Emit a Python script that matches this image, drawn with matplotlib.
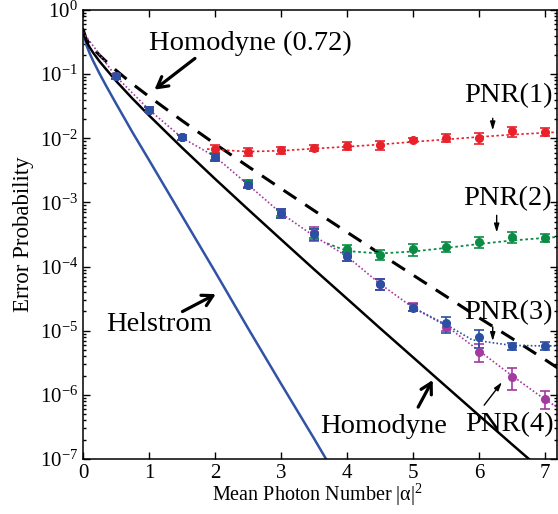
import matplotlib
matplotlib.use("Agg")
import matplotlib.pyplot as plt
import numpy as np

plt.rcParams['font.family'] = ['Liberation Serif', 'DejaVu Serif']
plt.rcParams['mathtext.fontset'] = 'custom'
plt.rcParams['mathtext.rm'] = 'Liberation Serif'
plt.rcParams['mathtext.it'] = 'Liberation Serif:italic'

# theory curves
n_th = [0, 0.05, 0.1, 0.15, 0.25, 0.35, 0.5, 0.75, 1, 1.5, 2, 2.5, 3, 3.5, 4, 4.5, 5, 5.5, 6, 6.5, 7, 7.2]
helstrom = [0.5, 0.287, 0.213, 0.164, 0.1025, 0.066, 0.035, 0.0124, 0.0046, 6.2e-4, 8.4e-5, 1.1e-5,
            1.5e-6, 2.1e-7, 2.8e-8, 3.8e-9, 5.2e-10, 7e-11, 9.4e-12, 1.3e-12, 1.7e-13, 7.6e-14]
homodyne = [0.5, 0.327, 0.264, 0.219, 0.1587, 0.1195, 0.0786, 0.0416, 0.0228, 0.00716, 0.00234, 7.83e-4,
            2.66e-4, 9.1e-5, 3.17e-5, 1.1e-5, 3.87e-6, 1.36e-6, 4.8e-7, 1.7e-7, 6.1e-8, 4.0e-8]
homodyne72 = [0.5, 0.352, 0.296, 0.256, 0.198, 0.158, 0.115, 0.0703, 0.0449, 0.0189, 0.0082, 0.00365,
              0.00165, 7.5e-4, 3.45e-4, 1.59e-4, 7.4e-5, 3.45e-5, 1.6e-5, 7.6e-6, 3.56e-6, 2.6e-6]

# measured points
n_data = [0.5, 1, 1.5, 2, 2.5, 3, 3.5, 4, 4.5, 5, 5.5, 6, 6.5, 7]
pnr1 = [0.092, 0.028, 0.0103, 6.8e-3, 6.2e-3, 6.5e-3, 7.1e-3, 7.6e-3, 7.8e-3, 9.3e-3, 1.02e-2, 1.02e-2, 1.28e-2, 1.27e-2]
pnr1_err = [0.08, 0.08, 0.1, 0.15, 0.15, 0.12, 0.12, 0.15, 0.15, 0.07, 0.15, 0.2, 0.17, 0.15]
pnr2 = [0.092, 0.028, 0.0103, 0.0052, 0.0020, 6.9e-4, 3.3e-4, 1.87e-4, 1.52e-4, 1.85e-4, 2.05e-4, 2.4e-4, 2.9e-4, 2.8e-4]
pnr2_err = [0.08, 0.08, 0.1, 0.12, 0.12, 0.12, 0.15, 0.15, 0.18, 0.2, 0.18, 0.2, 0.2, 0.15]
pnr3 = [0.092, 0.028, 0.0103, 0.0051, 0.0019, 6.8e-4, 3.2e-4, 1.45e-4, 5.4e-5, 2.3e-5, 1.3e-5, 7.9e-6, 5.7e-6, 5.8e-6]
pnr3_err = [0.08, 0.08, 0.1, 0.12, 0.12, 0.15, 0.2, 0.15, 0.2, 0.12, 0.28, 0.32, 0.12, 0.15]
pnr4 = [0.092, 0.028, 0.0103, 0.0051, 0.0019, 6.8e-4, 3.3e-4, 1.45e-4, 5.4e-5, 2.35e-5, 1.15e-5, 4.7e-6, 1.9e-6, 8.7e-7]
pnr4_err = [0.08, 0.08, 0.1, 0.12, 0.12, 0.15, 0.25, 0.15, 0.2, 0.15, 0.15, 0.3, 0.38, 0.3]

# dotted fit curves
fit1_n = [1.88, 2.5, 3, 3.5, 4, 4.5, 5, 5.5, 6, 6.5, 7, 7.2]
fit1 = [6.8e-3, 6.2e-3, 6.4e-3, 6.9e-3, 7.4e-3, 8.0e-3, 8.8e-3, 9.6e-3, 1.05e-2, 1.14e-2, 1.22e-2, 1.25e-2]
fit2_n = [3.7, 4, 4.5, 5, 5.5, 6, 6.5, 7, 7.2]
fit2 = [2.3e-4, 1.75e-4, 1.6e-4, 1.72e-4, 1.95e-4, 2.25e-4, 2.55e-4, 2.8e-4, 2.9e-4]
fit3_n = [5.0, 5.5, 5.9, 6.5, 7, 7.2]
fit3 = [2.3e-5, 1.25e-5, 7.2e-6, 5.9e-6, 5.8e-6, 5.8e-6]
fit4_n = [0, 0.5, 1, 1.5, 2, 2.5, 3, 3.5, 4, 4.5, 5, 5.5, 6, 6.5, 7, 7.2]
fit4 = [0.45, 0.092, 0.028, 0.0102, 0.0052, 0.0019, 6.8e-4, 3.0e-4, 1.45e-4, 5.4e-5, 2.3e-5, 1.2e-5,
        4.9e-6, 2.0e-6, 8.5e-7, 6.3e-7]

red = '#E8212B'
green = '#0A8C45'
blue = '#2B4FA3'
purple = '#A23AA0'

fig = plt.figure(figsize=(5.58, 5.14), dpi=100)
ax = fig.add_axes([0.1487, 0.107, 0.849, 0.8735])

ax.plot(n_th, helstrom, color='#3153A5', lw=1.8)
ax.plot(n_th, homodyne, color='black', lw=1.8)
ax.plot(n_th, homodyne72, color='black', lw=2.2, dashes=(5, 3.5))

ax.plot(fit1_n, fit1, color=red, lw=1.2, dashes=(1.5, 1.5))
ax.plot(fit2_n, fit2, color=green, lw=1.3, dashes=(1.5, 1.5))
ax.plot(fit4_n, fit4, color=purple, lw=1.2, dashes=(1, 1.3))
ax.plot(fit3_n, fit3, color=blue, lw=1.2, dashes=(1, 1.3))

for y, e, c in [(pnr1, pnr1_err, red), (pnr2, pnr2_err, green),
                (pnr4, pnr4_err, purple), (pnr3, pnr3_err, blue)]:
    y = np.array(y)
    yerr = y * np.array(e)
    ax.errorbar(n_data, y, yerr=yerr, fmt='o', color=c, ms=5.5, capsize=3.3,
                elinewidth=1.2, capthick=1.2)

ax.set_yscale('log')
ax.set_xlim(0, 7.18)
ax.set_ylim(1e-7, 1)
ax.set_xticks(range(8))
ax.tick_params(which='both', direction='in', top=True, right=True, labelsize=15, width=1)
ax.tick_params(which='major', length=5)
ax.tick_params(which='minor', length=2.5)
ax.tick_params(axis='x', which='minor', top=False, bottom=False)
for s in ax.spines.values():
    s.set_linewidth(1.1)

ax.set_xlabel('Mean Photon Number |α|$^2$', fontsize=14.5)
ax.xaxis.set_label_coords(0.496, -0.05)
ax.set_ylabel('Error Probability', fontsize=16.5)

big = dict(arrowstyle='->,head_length=0.75,head_width=0.42', lw=2.3, color='black')
small = dict(arrowstyle='-|>,head_length=0.5,head_width=0.15', lw=1, color='black',
             shrinkA=0, shrinkB=0)
fs = 20.5
ax.text(1.0, 0.3, 'Homodyne (0.72)', fontsize=fs, ha='left', va='center')
ax.annotate('', xy=(1.05, 0.054), xytext=(1.73, 0.187), arrowprops=big)
ax.text(1.15, 1.23e-5, 'Helstrom', fontsize=fs, ha='center', va='center')
ax.annotate('', xy=(2.05, 3.9e-5), xytext=(1.47, 1.9e-5), arrowprops=big)
ax.text(4.56, 3.2e-7, 'Homodyne', fontsize=fs, ha='center', va='center')
ax.annotate('', xy=(5.32, 1.86e-6), xytext=(5.06, 5.9e-7), arrowprops=big)

for lab, ty, ax0, y0, y1 in [('PNR(1)', 0.046, 6.21, 0.0205, 0.0133),
                             ('PNR(2)', 1.13e-3, 6.27, 6.3e-4, 3.4e-4),
                             ('PNR(3)', 1.9e-5, 6.21, 1.15e-5, 6.9e-6)]:
    ax.text(6.44, ty, lab, fontsize=fs, ha='center', va='center')
    ax.annotate('', xy=(ax0, y1), xytext=(ax0, y0), arrowprops=small)
ax.text(6.47, 3.4e-7, 'PNR(4)', fontsize=fs, ha='center', va='center')
ax.annotate('', xy=(6.35, 1.58e-6), xytext=(6.08, 6.9e-7), arrowprops=small)

fig.savefig('out.png', dpi=100)
